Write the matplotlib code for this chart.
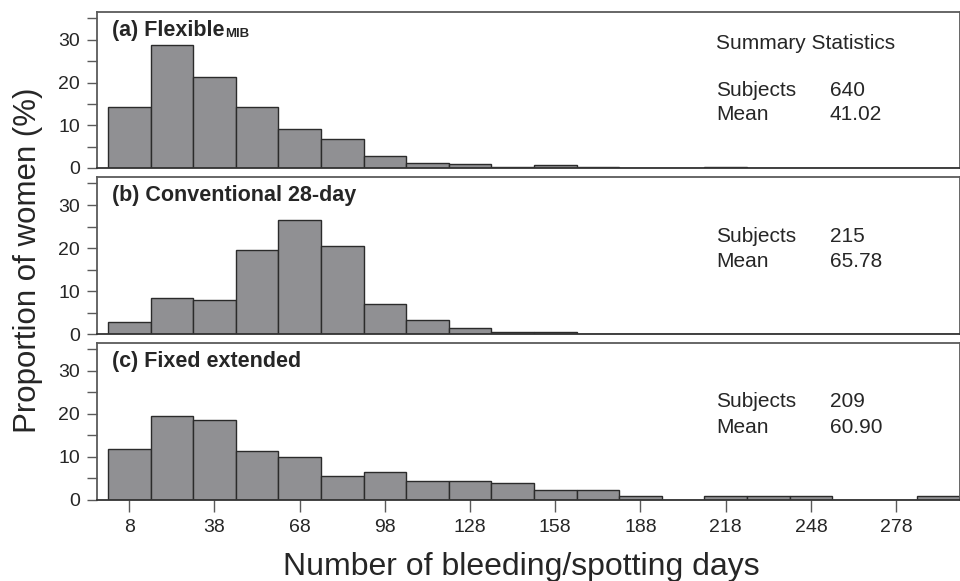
import matplotlib
matplotlib.use("Agg")
import matplotlib.pyplot as plt
from matplotlib.ticker import MultipleLocator
import numpy as np

plt.rcParams['font.family'] = ['Liberation Sans', 'DejaVu Sans']

# bin centres (days), bin width 15
bin_centers = [8, 23, 38, 53, 68, 83, 98, 113, 128, 143, 158, 173, 188, 203, 218, 233, 248, 263, 278, 293]
bin_width = 15

flexible = [14.3, 28.8, 21.2, 14.3, 9.1, 6.9, 2.9, 1.25, 0.93, 0.3, 0.6, 0.3, 0, 0, 0.3, 0, 0, 0, 0, 0]
conventional = [2.8, 8.37, 7.9, 19.5, 26.5, 20.47, 6.98, 3.3, 1.4, 0.47, 0.47, 0, 0, 0, 0, 0, 0, 0, 0, 0]
fixed_ext = [11.9, 19.5, 18.6, 11.4, 9.9, 5.5, 6.5, 4.5, 4.5, 3.9, 2.3, 2.3, 0.96, 0, 0.96, 0.96, 0.96, 0, 0, 0.96]

titles = ["(a) Flexible", "(b) Conventional 28-day", "(c) Fixed extended"]
title_subscripts = ["MIB", "", ""]
subjects = ["640", "215", "209"]
means = ["41.02", "65.78", "60.90"]
xticks = [8, 38, 68, 98, 128, 158, 188, 218, 248, 278]

series = [flexible, conventional, fixed_ext]

W, H = 960, 581
fig = plt.figure(figsize=(W / 100, H / 100), dpi=100)
fig.patch.set_facecolor('white')

def fy(px):
    return 1 - px / H

left = 97.3 / W
right = 1.0
panels = [(12, 168), (177, 334.3), (343, 500)]

text_col = '#262626'
spine_col = '#5a5a5a'
bar_face = '#909093'
bar_edge = '#2b2b2b'

for i, (top, bot) in enumerate(panels):
    ax = fig.add_axes([left, fy(bot), right - left, fy(top) - fy(bot)])
    ax.bar(bin_centers, series[i], width=bin_width, color=bar_face,
           edgecolor=bar_edge, linewidth=1.0, align='center', zorder=2)
    ax.set_xlim(-3.26, 300.5)
    ax.set_ylim(0, 36.5)
    ax.yaxis.set_major_locator(MultipleLocator(10))
    ax.yaxis.set_minor_locator(MultipleLocator(5))
    ax.tick_params(axis='y', which='both', direction='out', length=7.5, width=1.0,
                   color=spine_col, labelsize=14, labelcolor=text_col, pad=5)
    ax.tick_params(axis='y', which='minor', labelleft=False)
    for s in ax.spines.values():
        s.set_color(spine_col)
        s.set_linewidth(1.3)
    ax.spines['bottom'].set_color('#333333')
    if i < 2:
        ax.set_xticks([])
    else:
        ax.set_xticks(xticks)
        ax.set_xticklabels([str(t) for t in xticks])
        ax.tick_params(axis='x', direction='out', length=8.5, width=1.0,
                       color=spine_col, labelsize=14, labelcolor=text_col, pad=5)
    h = bot - top
    t = ax.text(0.017, 1 - 24 / h, titles[i], transform=ax.transAxes,
                fontsize=15.5, fontweight='bold', color=text_col, va='baseline', ha='left')
    if title_subscripts[i]:
        ax.annotate(title_subscripts[i], xy=(1.0, 0.0), xycoords=t,
                    xytext=(0.5, 0.5), textcoords='offset points',
                    fontsize=9.5, fontweight='bold', color=text_col,
                    va='bottom', ha='left')
    if i == 0:
        ax.text(0.717, (bot - 49) / h, "Summary Statistics", transform=ax.transAxes,
                fontsize=15, color=text_col, va='baseline', ha='left')
        sb, mb = 96, 120
    elif i == 1:
        sb, mb = 241.7, 266.7
    else:
        sb, mb = 406.7, 432.7
    ax.text(0.717, (bot - sb) / h, "Subjects", transform=ax.transAxes,
            fontsize=15, color=text_col, va='baseline', ha='left')
    ax.text(0.849, (bot - sb) / h, subjects[i], transform=ax.transAxes,
            fontsize=15, color=text_col, va='baseline', ha='left')
    ax.text(0.717, (bot - mb) / h, "Mean", transform=ax.transAxes,
            fontsize=15, color=text_col, va='baseline', ha='left')
    ax.text(0.849, (bot - mb) / h, means[i], transform=ax.transAxes,
            fontsize=15, color=text_col, va='baseline', ha='left')

fig.text(28 / W, fy(260), "Proportion of women (%)", rotation=90, fontsize=22.5,
         color=text_col, ha='center', va='center')
fig.text(521 / W, fy(575), "Number of bleeding/spotting days", fontsize=23,
         color=text_col, ha='center', va='baseline')

fig.savefig("out.png", dpi=100, facecolor='white')
